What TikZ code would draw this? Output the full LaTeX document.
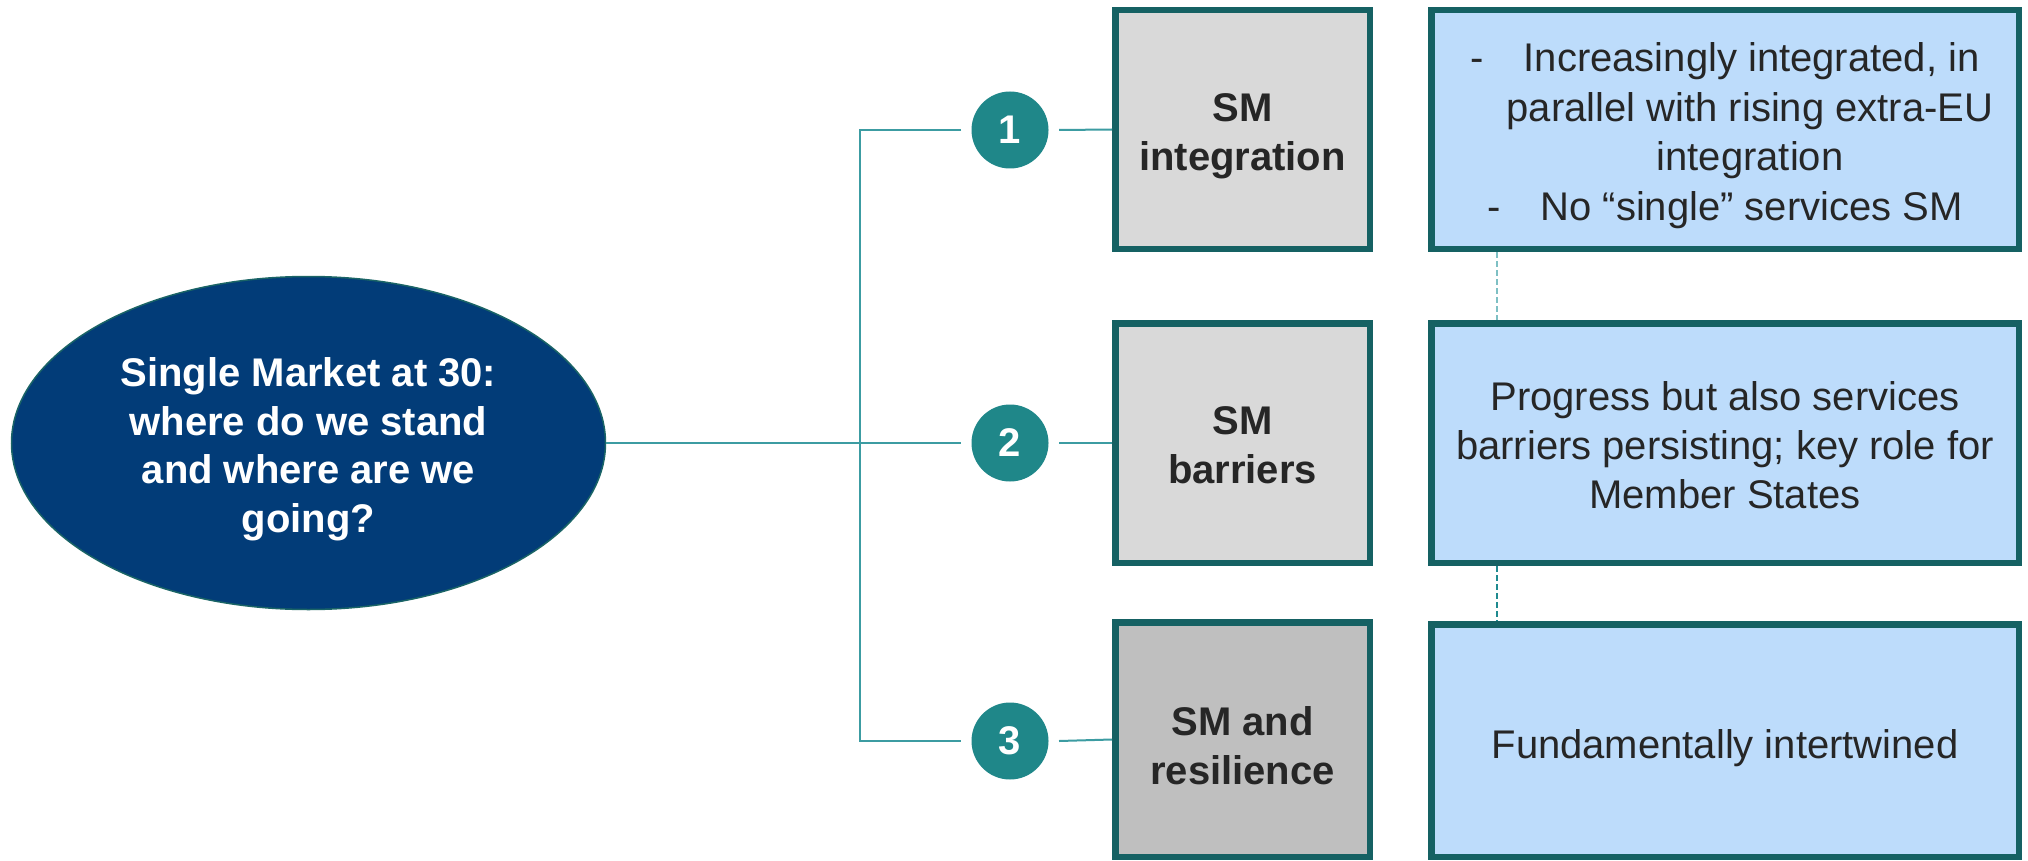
\documentclass[tikz,border=0pt]{standalone}
\usepackage{fontspec}
\setmainfont{Liberation Sans}
\usetikzlibrary{shapes.geometric}
\definecolor{navy}{HTML}{023C78}
\definecolor{navyedge}{HTML}{1A6466}
\definecolor{tealc}{HTML}{1F8789}
\definecolor{connc}{HTML}{3C9CA2}
\definecolor{boxedge}{HTML}{156163}
\definecolor{grayA}{HTML}{D9D9D9}
\definecolor{grayB}{HTML}{BFBFBF}
\definecolor{blueA}{HTML}{BDDCFB}
\definecolor{txt}{HTML}{262626}
\definecolor{dashlight}{HTML}{7EC0C4}
\definecolor{dashdark}{HTML}{1F8A8F}
\newcommand{\myStrut}[1]{\rule{0pt}{#1}}
\begin{document}
\begin{tikzpicture}[x=1pt,y=-1pt,
  ell/.style={ellipse, fill=navy, draw=navyedge, line width=1.5pt,
    minimum width=594pt, minimum height=333pt, inner sep=0pt,
    text=white, align=center, font=\bfseries\fontsize{40}{48.5}\selectfont},
  num/.style={circle, fill=tealc, minimum size=77pt, inner sep=0pt,
    outer sep=10.5pt, text=white, font=\bfseries\fontsize{40}{48}\selectfont},
  gbox/.style={rectangle, draw=boxedge, line width=6.5pt, fill=grayA,
    minimum width=254.5pt, inner sep=0pt, text=txt, align=center,
    font=\bfseries\fontsize{40}{49}\selectfont},
  bbox/.style={rectangle, draw=boxedge, line width=6.5pt, fill=blueA,
    minimum width=587.5pt, inner sep=0pt, text=txt, align=center,
    font=\fontsize{40}{49}\selectfont},
  conn/.style={draw=connc, line width=2pt},
  dashA/.style={draw=dashlight, line width=2pt, dash pattern=on 6pt off 3pt},
  dashB/.style={draw=dashdark, line width=2pt, dash pattern=on 6pt off 3pt}
]
\useasboundingbox (0,0) rectangle (2028,861);
\fill[white] (0,0) rectangle (2028,861);

\node[ell] (q) at (308.5,443) {\myStrut{41pt}Single Market at 30:\\where do we stand\\and where are we\\going?};

\node[num] (c1) at (1010,130) {1};
\node[num] (c2) at (1010,443) {2};
\node[num] (c3) at (1010,741) {3};

\node[gbox, minimum height=238.5pt] (g1) at (1242.5,129.5) {\myStrut{41pt}SM\\integration};
\node[gbox, minimum height=239.5pt] (g2) at (1242.5,443) {\myStrut{33pt}SM\\barriers};
\node[gbox, fill=grayB, minimum height=234.5pt] (g3) at (1242.5,739.5) {\myStrut{41pt}SM and\\resilience};

\node[bbox, minimum height=238.5pt, font=\fontsize{40}{49.5}\selectfont] (d1) at (1725,129.5)
  {\myStrut{41pt}-\hspace*{40pt}Increasingly integrated, in\\\hspace*{50pt}parallel with rising extra-EU\\\hspace*{50pt}integration\\-\hspace*{40pt}No “single” services SM};
\node[bbox, minimum height=239.5pt] (d2) at (1725,443)
  {\myStrut{33pt}Progress but also services\\barriers persisting; key role for\\Member States};
\node[bbox, minimum height=232.5pt] (d3) at (1725,740.5)
  {\myStrut{44pt}Fundamentally intertwined};

\draw[conn] (q.east) -- (c2.west);
\draw[conn] (c1.west) -- ++(-101,0) |- (c3.west);
\draw[conn] (c1.east) -- (g1.west);
\draw[conn] (c2.east) -- (g2.west);
\draw[conn] (c3.east) -- (g3.west);

\draw[dashA] ([xshift=69pt]d1.south west) -- ([xshift=69pt]d2.north west);
\draw[dashB] ([xshift=69pt]d2.south west) -- ([xshift=69pt]d3.north west);
\end{tikzpicture}
\end{document}
